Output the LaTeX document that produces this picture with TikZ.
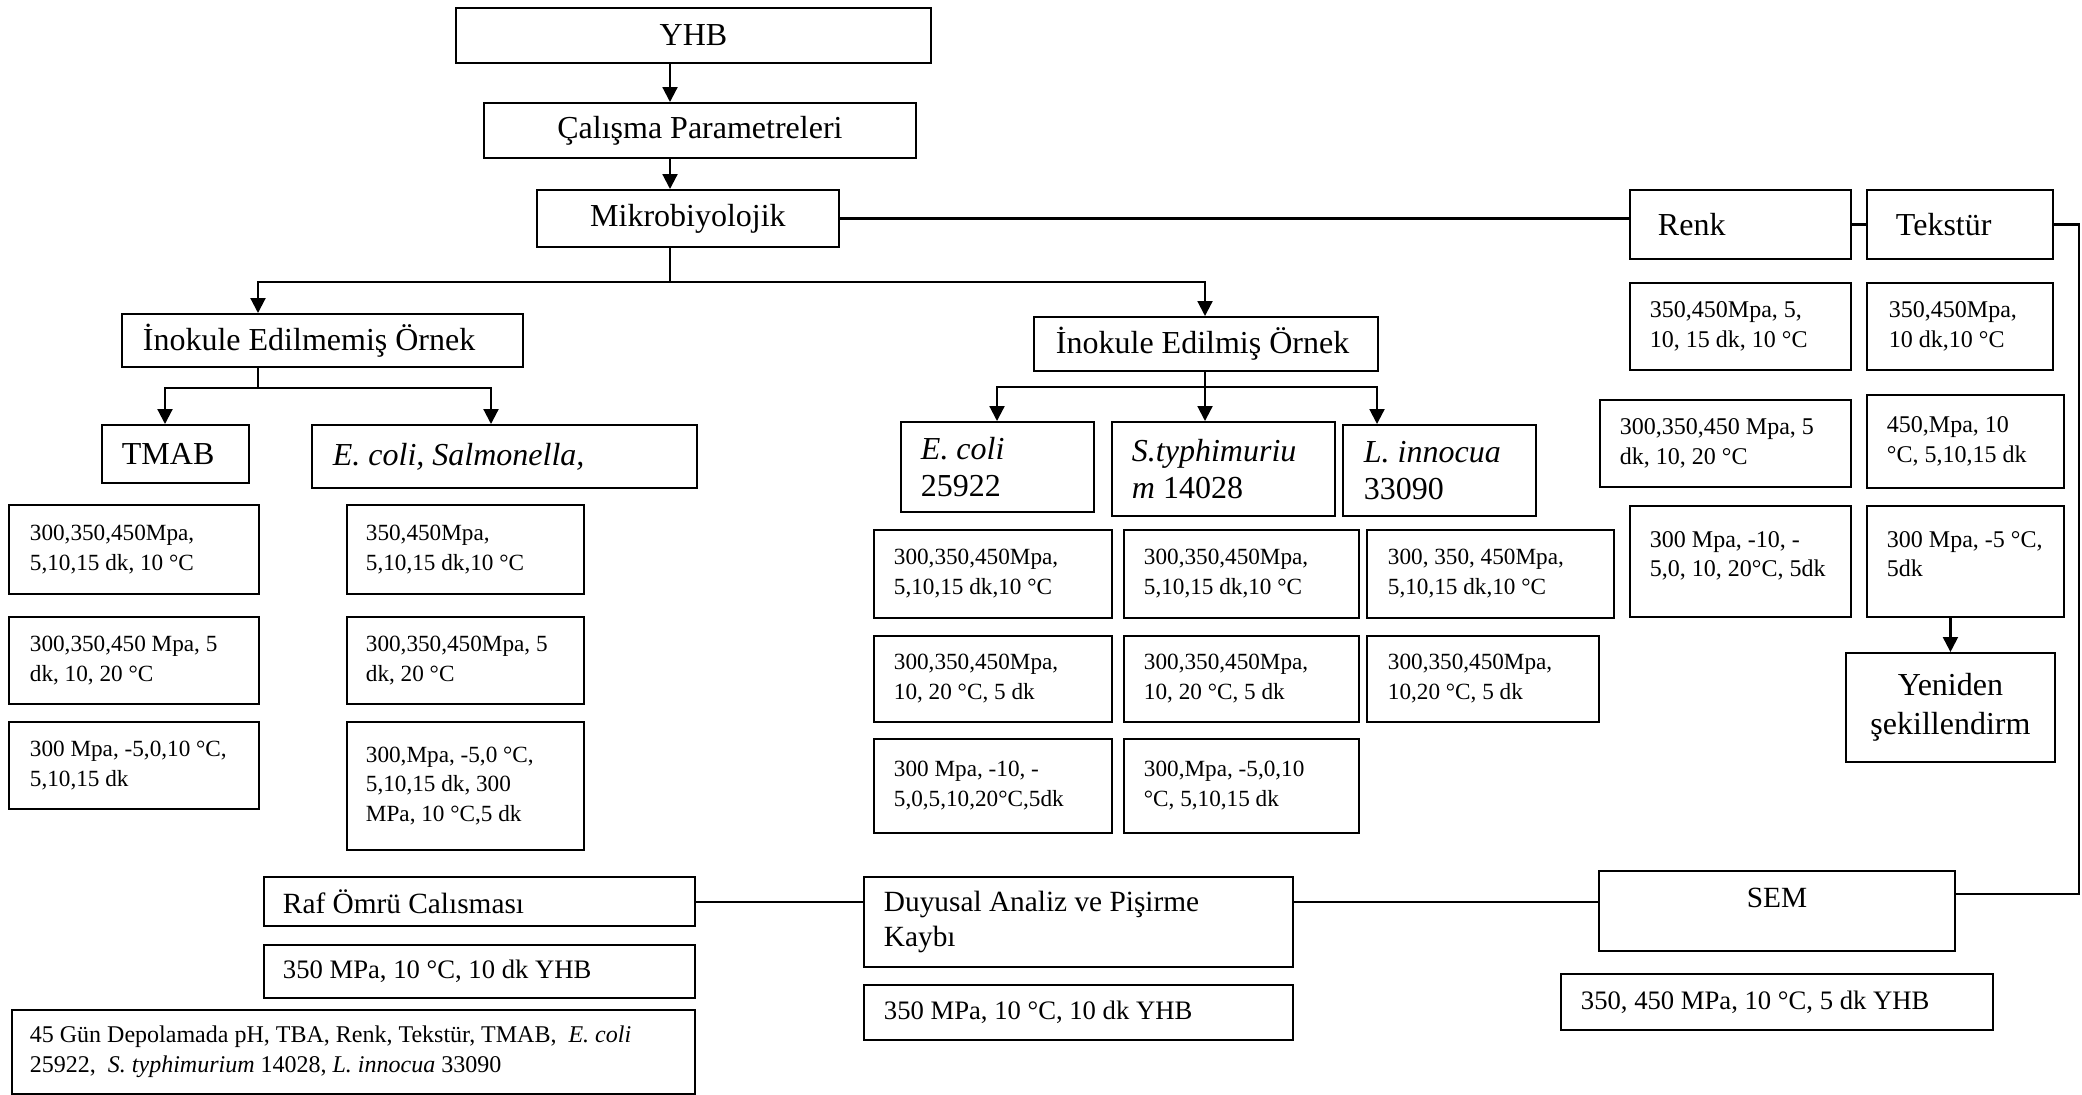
\documentclass[tikz,border=0pt]{standalone}
\usepackage{fontspec}
\setmainfont{Liberation Serif}
\usetikzlibrary{arrows.meta}
\newdimen\pxu \pxu=0.375pt
\newcommand\fhdr{\fontsize{12}{14.5}\selectfont}
\newcommand\fspc{\fontsize{12}{14}\selectfont}
\newcommand\fprm{\fontsize{8.7}{11.2}\selectfont}
\newcommand\fprr{\fontsize{9}{11.2}\selectfont}
\newcommand\fbot{\fontsize{11}{13}\selectfont}
\newcommand\fsml{\fontsize{10}{12}\selectfont}
\newcommand\fgun{\fontsize{9}{11.2}\selectfont}
\tikzset{
	lbox/.style n args={3}{draw, line width=0.7pt, anchor=north west, inner sep=0pt,
		text width=#1*0.375pt, minimum height=#2*0.375pt, align=left,
		execute at begin node={\leftskip=#3\pxu\relax\spaceskip=0pt\relax\xspaceskip=0pt\relax}},
	cbox/.style 2 args={draw, line width=0.7pt, anchor=north west, inner sep=0pt,
		minimum width=#1*0.375pt, minimum height=#2*0.375pt, align=center},
}
\tikzstyle{arr} = [-{Triangle[length=5.6pt,width=5.6pt]}, line width=0.8pt]
\tikzstyle{link} = [line width=0.8pt]
\tikzstyle{trunk} = [line width=0.5pt]
\begin{document}
\begin{tikzpicture}[x=0.375pt, y=-0.375pt]
\useasboundingbox (0,0) rectangle (2082,1094);
\node [cbox={475}{55}, font=\fhdr] (yhb) at (455,7) {YHB};
\node [cbox={432}{55}, font=\fhdr] (cal) at (483,102) {Çalışma Parametreleri};
\node [cbox={302}{57}, font=\fhdr] (mik) at (536,189) {Mikrobiyolojik};
\node [lbox={401}{53}{21}, font=\fhdr] (une) at (121,313) {İnokule Edilmemiş Örnek};
\node [lbox={344}{54}{22}, font=\fhdr] (ine) at (1033,316) {İnokule Edilmiş Örnek};
\node [lbox={147}{58}{20}, font=\fhdr] (tmab) at (101,424) {TMAB};
\node [lbox={385}{63}{21}, font=\fhdr] (ecs) at (311,424) {\textit{E. coli, Salmonella,}};
\node [lbox={193}{90}{20}, font=\fspc] (eco) at (900,421) {\textit{E. coli}\\25922};
\node [lbox={223}{94}{20}, font=\fspc] (sty) at (1111,421) {\textit{S.typhimuriu}\\\textit{m} 14028};
\node [lbox={193}{91}{21}, font=\fspc] (lin) at (1342,424) {\textit{L. innocua}\\33090};
\node [lbox={221}{69}{28}, font=\fhdr] (renk) at (1629,189) {Renk};
\node [lbox={186}{69}{29}, font=\fhdr] (tek) at (1866,189) {Tekstür};

\node [lbox={250}{89}{21}, font=\fprm] (l1) at (8,504) {300,350,450Mpa,\\5,10,15 dk, 10 °C};
\node [lbox={250}{87}{21}, font=\fprm] (l2) at (8,616) {300,350,450 Mpa, 5\\dk, 10, 20 °C};
\node [lbox={250}{87}{21}, font=\fprm] (l3) at (8,721) {300 Mpa, -5,0,10 °C,\\5,10,15 dk};
\node [lbox={237}{89}{19}, font=\fprm] (m1) at (346,504) {350,450Mpa,\\5,10,15 dk,10 °C};
\node [lbox={237}{87}{19}, font=\fprm] (m2) at (346,616) {300,350,450Mpa, 5\\dk, 20 °C};
\node [lbox={237}{128}{19}, font=\fprm] (m3) at (346,721) {300,Mpa, -5,0 °C,\\5,10,15 dk, 300\\MPa, 10 °C,5 dk};

\node [lbox={238}{88}{20}, font=\fprm] (c1) at (873,529) {300,350,450Mpa,\\5,10,15 dk,10 °C};
\node [lbox={238}{86}{20}, font=\fprm] (c2) at (873,635) {300,350,450Mpa,\\10, 20 °C, 5 dk};
\node [lbox={238}{94}{20}, font=\fprm] (c3) at (873,738) {300 Mpa, -10, -\\5,0,5,10,20°C,5dk};
\node [lbox={235}{88}{20}, font=\fprm] (s1) at (1123,529) {300,350,450Mpa,\\5,10,15 dk,10 °C};
\node [lbox={235}{86}{20}, font=\fprm] (s2) at (1123,635) {300,350,450Mpa,\\10, 20 °C, 5 dk};
\node [lbox={235}{94}{20}, font=\fprm] (s3) at (1123,738) {300,Mpa, -5,0,10\\°C, 5,10,15 dk};
\node [lbox={247}{88}{21}, font=\fprm] (i1) at (1366,529) {300, 350, 450Mpa,\\5,10,15 dk,10 °C};
\node [lbox={232}{86}{21}, font=\fprm] (i2) at (1366,635) {300,350,450Mpa,\\10,20 °C, 5 dk};

\node [lbox={221}{87}{20}, font=\fprr] (r1) at (1629,282) {350,450Mpa, 5,\\10, 15 dk, 10 °C};
\node [lbox={186}{87}{22}, font=\fprr] (t1) at (1866,282) {350,450Mpa,\\10 dk,10 °C};
\node [lbox={251}{87}{20}, font=\fprr] (r2) at (1599,399) {300,350,450 Mpa, 5\\dk, 10, 20 °C};
\node [lbox={197}{93}{20}, font=\fprr] (t2) at (1866,394) {450,Mpa, 10\\°C, 5,10,15 dk};
\node [lbox={221}{111}{20}, font=\fprr] (r3) at (1629,505) {300 Mpa, -10, -\\5,0, 10, 20°C, 5dk\\[-5.6pt]~};
\node [lbox={197}{111}{20}, font=\fprr] (t3) at (1866,505) {300 Mpa, -5 °C,\\5dk\\[-5.6pt]~};
\node [cbox={209}{109}, font=\fhdr] (yen) at (1845,652) {Yeniden\\şekillendirm};

\node [lbox={431}{49}{19}, font=\fbot] (raf) at (263,876) {Raf Ömrü Calısması};
\node [lbox={431}{53}{19}, font=\fsml] (rmp) at (263,944) {350 MPa, 10 °C, 10 dk YHB};
\node [lbox={683}{84}{18}, font=\fgun] (gun) at (11,1009) {45 Gün Depolamada pH, TBA, Renk, Tekstür, TMAB,\ \ \textit{E. coli}\\25922,\ \ \textit{S. typhimurium} 14028, \textit{L. innocua} 33090};
\node [lbox={429}{90}{20}, font=\fbot] (duy) at (863,876) {Duyusal Analiz ve Pişirme\\Kaybı};
\node [lbox={429}{55}{20}, font=\fsml] (dmp) at (863,984) {350 MPa, 10 °C, 10 dk YHB};
\node [cbox={356}{80}, font=\fbot, text depth=9.6pt] (sem) at (1598,870) {SEM};
\node [lbox={432}{56}{20}, font=\fsml] (smp) at (1560,973) {350, 450 MPa, 10 °C, 5 dk YHB};

\coordinate (xa) at (670,0);
\coordinate (xun) at (258,0);
\coordinate (xin) at (1205,0);
\coordinate (xtm) at (165,0);
\coordinate (xes) at (491,0);
\coordinate (xec) at (997,0);
\coordinate (xli) at (1377,0);
\coordinate (mj) at (670,282);
\coordinate (uj) at (258,388);
\coordinate (ij) at (1205,387);
\coordinate (rc) at (2079,894);
\coordinate (bl) at (0,902);

\draw[arr] (yhb.south -| xa) -- (cal.north -| xa);
\draw[arr] (cal.south -| xa) -- (mik.north -| xa);
\draw[trunk] (mik.south -| xa) -- (mj);
\draw[arr] (mj) -| (une.north -| xun);
\draw[arr] (mj) -| (ine.north -| xin);
\draw[trunk] (une.south -| xun) -- (uj);
\draw[arr] (uj) -| (tmab.north -| xtm);
\draw[arr] (uj) -| (ecs.north -| xes);
\draw[arr] (ine.south -| xin) -- (sty.north -| xin);
\draw[arr] (ij) -| (eco.north -| xec);
\draw[arr] (ij) -| (lin.north -| xli);
\draw[link] (mik.east) -- (mik.east -| renk.west);
\draw[link] (renk.east) -- (tek.west);
\draw[link] (tek.east) -| (rc) -- (rc -| sem.east);
\draw[arr] (t3.south -| yen.north) -- (yen.north);
\draw[link] (raf.east |- bl) -- (duy.west |- bl);
\draw[link] (duy.east |- bl) -- (sem.west |- bl);
\end{tikzpicture}
\end{document}
